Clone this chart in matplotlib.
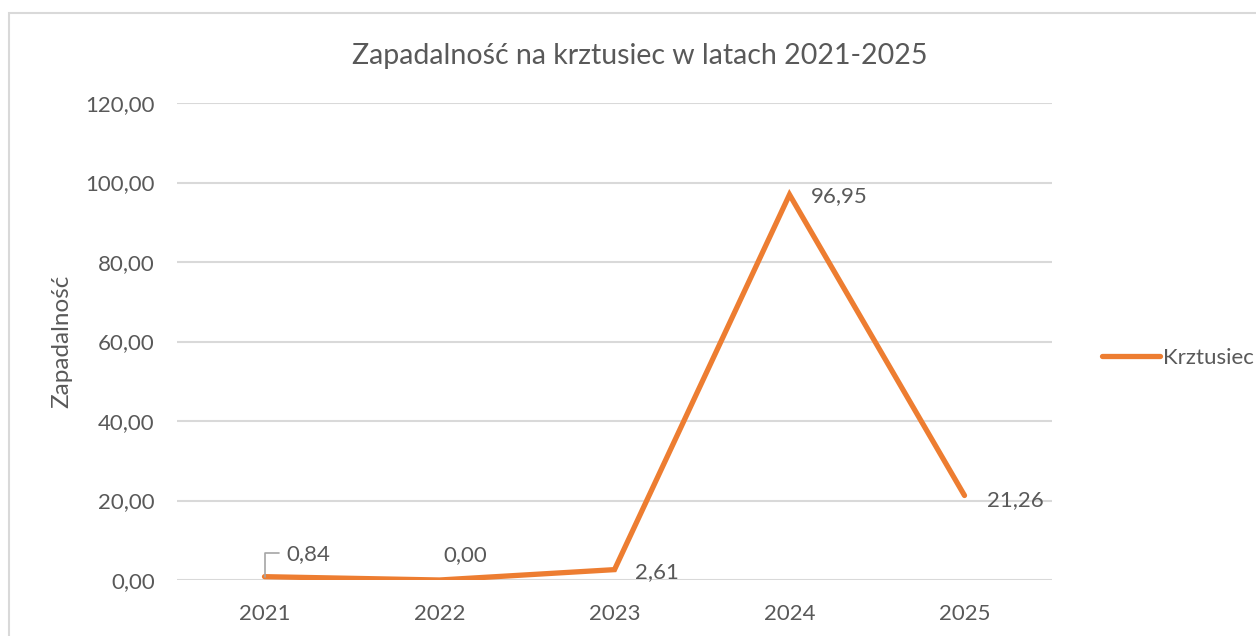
import matplotlib.pyplot as plt
from matplotlib.patches import Rectangle

years = ["2021", "2022", "2023", "2024", "2025"]
values = [0.84, 0.00, 2.61, 96.95, 21.26]
series_name = "Krztusiec"
title = "Zapadalność na krztusiec w latach 2021-2025"
ylabel = "Zapadalność"
yticks = [0, 20, 40, 60, 80, 100, 120]

# label offsets in pixels (dx, dy) relative to each point
label_offsets = [(22, 23), (4, 25), (21, -2), (21, -1), (22, -5)]

orange = "#ED7D31"
grey_txt = "#595959"
grid_col = "#D9D9D9"

plt.rcParams['font.family'] = ['Lato', 'DejaVu Sans']

fig = plt.figure(figsize=(12.56, 6.36), dpi=100)
W, H = 1256, 636

# chart border
fig.patches.append(Rectangle((9 / W, -0.1), 1.2, 1 - 13 / H + 0.1,
                             transform=fig.transFigure, fill=False,
                             edgecolor=grid_col, linewidth=1.5))

ax = fig.add_axes([177 / W, 56 / H, 875 / W, 477 / H])
x = list(range(len(years)))
line, = ax.plot(x, values, color=orange, linewidth=3.8,
                solid_capstyle='round', solid_joinstyle='miter',
                label=series_name, zorder=3)

ax.set_xlim(-0.5, len(years) - 0.5)
ax.set_ylim(0, 120)
ax.set_yticks(yticks)
ax.set_yticklabels([f"{v:.2f}".replace(".", ",") for v in yticks])
ax.set_xticks(x)
ax.set_xticklabels(years)
ax.grid(axis='y', color=grid_col, linewidth=1.5)
ax.set_axisbelow(True)
for s in ax.spines.values():
    s.set_visible(False)
ax.tick_params(length=0, labelsize=16, colors=grey_txt)
ax.tick_params(axis='y', pad=16)
ax.tick_params(axis='x', pad=17)

ax.set_ylabel(ylabel, fontsize=17.5, color=grey_txt, labelpad=9)
fig.text(640 / W, 1 - 56 / H, title, fontsize=20.5, color=grey_txt,
         ha='center', va='center')

for i, (v, (dx, dy)) in enumerate(zip(values, label_offsets)):
    txt = f"{v:.2f}".replace(".", ",")
    ax.annotate(txt, (i, v), xytext=(dx * 0.72, dy * 0.72),
                textcoords='offset points', fontsize=16, color=grey_txt,
                ha='left', va='center')

# leader line for first label
ax.annotate("", (0, values[0]), xytext=(14 * 0.72, 24 * 0.72),
            textcoords='offset points',
            arrowprops=dict(arrowstyle='-', color='#A6A6A6', lw=1.2,
                            connectionstyle='angle,angleA=0,angleB=90,rad=0',
                            shrinkA=0, shrinkB=0))

leg = fig.legend(handles=[line], loc='center left',
                 bbox_to_anchor=(1082 / W, 1 - 358 / H), frameon=False,
                 fontsize=16, handlelength=2.6, handletextpad=0.15,
                 labelcolor=grey_txt)

fig.savefig("out.png", dpi=100)
